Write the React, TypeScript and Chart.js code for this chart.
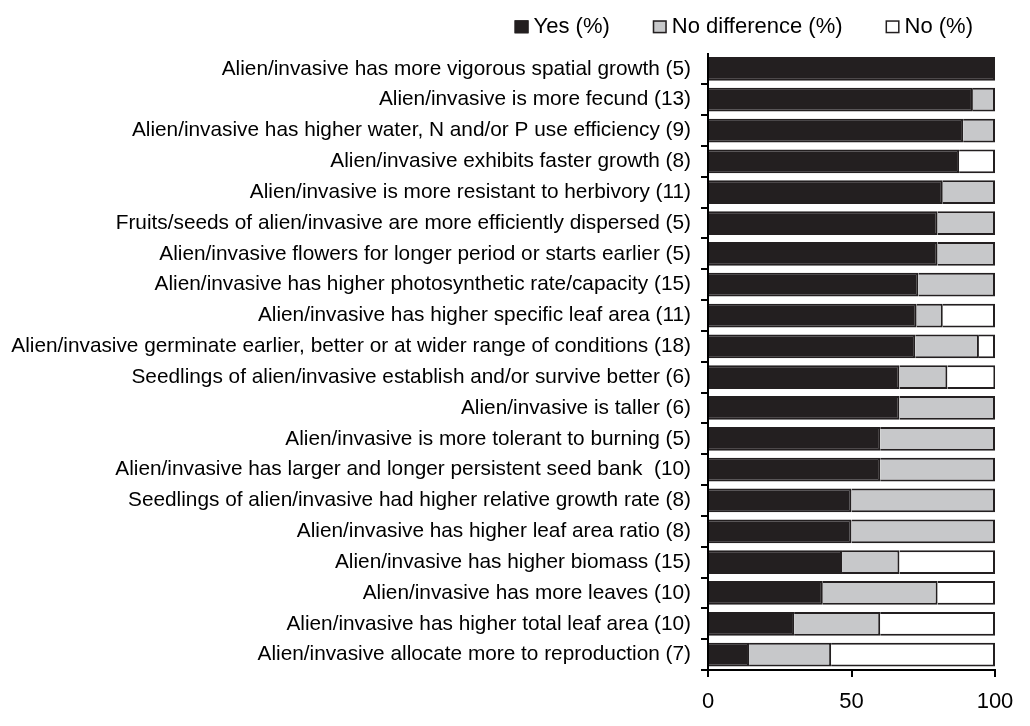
import React, { useEffect, useRef } from 'react';
import { Chart, registerables } from 'chart.js';

Chart.register(...registerables);

const categories = [
  'Alien/invasive has more vigorous spatial growth (5)',
  'Alien/invasive is more fecund (13)',
  'Alien/invasive has higher water, N and/or P use efficiency (9)',
  'Alien/invasive exhibits faster growth (8)',
  'Alien/invasive is more resistant to herbivory (11)',
  'Fruits/seeds of alien/invasive are more efficiently dispersed (5)',
  'Alien/invasive flowers for longer period or starts earlier (5)',
  'Alien/invasive has higher photosynthetic rate/capacity (15)',
  'Alien/invasive has higher specific leaf area (11)',
  'Alien/invasive germinate earlier, better or at wider range of conditions (18)',
  'Seedlings of alien/invasive establish and/or survive better (6)',
  'Alien/invasive is taller (6)',
  'Alien/invasive is more tolerant to burning (5)',
  'Alien/invasive has larger and longer persistent seed bank  (10)',
  'Seedlings of alien/invasive had higher relative growth rate (8)',
  'Alien/invasive has higher leaf area ratio (8)',
  'Alien/invasive has higher biomass (15)',
  'Alien/invasive has more leaves (10)',
  'Alien/invasive has higher total leaf area (10)',
  'Alien/invasive allocate more to reproduction (7)',
];

const yesValues = [100, 92.3, 88.9, 87.5, 81.8, 80, 80, 73.3, 72.7, 72.2, 66.7, 66.7, 60, 60, 50, 50, 46.7, 40, 30, 14.3];
const noDifferenceValues = [0, 7.7, 11.1, 0, 18.2, 20, 20, 26.7, 9.1, 22.2, 16.7, 33.3, 40, 40, 50, 50, 20, 40, 30, 28.6];
const noValues = [0, 0, 0, 12.5, 0, 0, 0, 0, 18.2, 5.6, 16.7, 0, 0, 0, 0, 0, 33.3, 20, 40, 57.1];

const seriesNames = ['Yes (%)', 'No difference (%)', 'No (%)'];
const xTickValues = [0, 50, 100];

const FONT = '"Liberation Sans", Arial, Helvetica, sans-serif';
const DARK = '#231f20';
const GRAY = '#c7c8ca';
const WHITE = '#ffffff';

const legendPlugin = {
  id: 'customLegend',
  afterDraw(chart: any) {
    const ctx = chart.ctx;
    const ds = chart.data.datasets;
    ctx.save();
    ctx.font = `22px ${FONT}`;
    ctx.textBaseline = 'alphabetic';
    ctx.textAlign = 'left';
    const boxW = 14;
    const boxH = 13;
    const gapText = 5;
    const gapItem = 43;
    const widths = ds.map((d: any) => ctx.measureText(d.label).width);
    const total =
      widths.reduce((a: number, w: number) => a + boxW + gapText + w, 0) + gapItem * (ds.length - 1);
    let x = chart.chartArea.right - 22 - total;
    const baseline = 25.3;
    ds.forEach((d: any, i: number) => {
      ctx.fillStyle = d.backgroundColor;
      ctx.fillRect(x, baseline - boxH, boxW, boxH);
      ctx.strokeStyle = DARK;
      ctx.lineWidth = 1.5;
      ctx.strokeRect(x + 0.75, baseline - boxH + 0.75, boxW - 1.5, boxH - 1.5);
      ctx.fillStyle = '#000';
      ctx.fillText(d.label, x + boxW + gapText, baseline);
      x += boxW + gapText + widths[i] + gapItem;
    });
    ctx.restore();
  },
};

export default function App() {
  const canvasRef = useRef<HTMLCanvasElement | null>(null);

  useEffect(() => {
    if (!canvasRef.current) return;
    const makeDs = (label: string, data: number[], color: string) => ({
      label,
      data,
      backgroundColor: color,
      borderColor: DARK,
      borderWidth: 2,
      borderSkipped: 'start' as const,
      barPercentage: 0.77,
      categoryPercentage: 1,
    });
    const chart = new Chart(canvasRef.current, {
      type: 'bar',
      data: {
        labels: categories,
        datasets: [
          makeDs(seriesNames[0], yesValues, DARK),
          makeDs(seriesNames[1], noDifferenceValues, GRAY),
          makeDs(seriesNames[2], noValues, WHITE),
        ],
      },
      options: {
        indexAxis: 'y',
        responsive: false,
        animation: false,
        layout: { padding: { top: 45.5, right: 27, bottom: 0, left: 0 } },
        plugins: {
          legend: { display: false },
          tooltip: { enabled: false },
        },
        scales: {
          x: {
            stacked: true,
            min: 0,
            max: 100,
            border: { display: true, color: '#000', width: 2 },
            grid: {
              drawOnChartArea: false,
              drawTicks: true,
              tickLength: 7,
              color: '#000',
              lineWidth: 2,
            },
            ticks: {
              font: { family: FONT, size: 22 },
              color: '#000',
              padding: 12,
              maxRotation: 0,
            },
            afterBuildTicks: (s: any) => {
              s.ticks = xTickValues.map((v) => ({ value: v }));
            },
            afterFit: (s: any) => {
              s.height = 48;
              s.paddingLeft = 0;
              s.paddingRight = 0;
            },
          },
          y: {
            stacked: true,
            offset: true,
            border: { display: true, color: '#000', width: 2 },
            grid: {
              offset: true,
              drawOnChartArea: false,
              drawTicks: true,
              tickLength: 7,
              lineWidth: 2,
              color: (c: any) => (c.index === 0 ? 'rgba(0,0,0,0)' : '#000'),
            },
            ticks: {
              font: { family: FONT, size: 20.8 },
              color: '#000',
              padding: 10,
              autoSkip: false,
            },
            afterFit: (s: any) => {
              s.width = 700;
            },
          },
        },
      },
      plugins: [legendPlugin],
    });
    return () => chart.destroy();
  }, []);

  return (
    <div style={{ width: 1014, height: 710 }}>
      <canvas ref={canvasRef} width={1014} height={710} style={{ display: 'block' }} />
    </div>
  );
}
